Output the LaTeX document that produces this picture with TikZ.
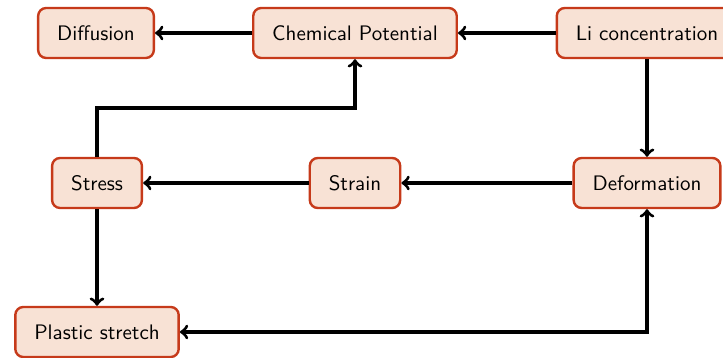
\documentclass[tikz,border=0pt]{standalone}
\definecolor{boxline}{RGB}{198,58,26}
\definecolor{boxfill}{RGB}{248,226,213}
\begin{document}
\begin{tikzpicture}[x=.5pt, y=.5pt, font=\sffamily\fontsize{10.5}{12}\selectfont,
 blk/.style={draw=boxline, fill=boxfill, very thick, rounded corners=4pt, inner xsep=9.5pt, minimum height=25pt},
 link/.style={ultra thick, ->}]
\useasboundingbox (0,0) rectangle (723,358);
\node[blk] (diff) at (96,325) {Diffusion};
\node[blk] (chem) at (355,325) {Chemical Potential};
\node[blk] (li) at (647,325) {Li concentration};
\node[blk] (stress) at (97,175) {Stress};
\node[blk] (strain) at (355,175) {Strain};
\node[blk] (deform) at (647,175) {Deformation};
\node[blk] (plastic) at (97,26) {Plastic stretch};
\coordinate (turn) at (355,250);
\draw[link](chem)--(diff);
\draw[link](li)--(chem);
\draw[link](li)--(deform);
\draw[link](deform)--(strain);
\draw[link](strain)--(stress);
\draw[link](stress)|-(turn)--(chem);
\draw[link](stress)--(plastic);
\draw[link, <->](plastic)-|(deform);
\end{tikzpicture}
\end{document}
